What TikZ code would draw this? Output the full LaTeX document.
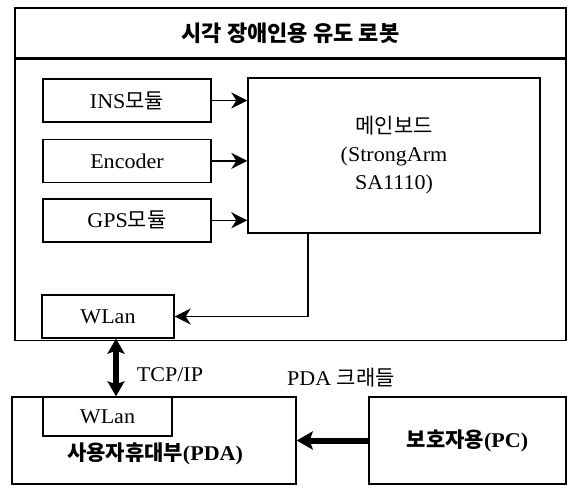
\documentclass[tikz,border=0pt]{standalone}
\usepackage{fontspec}
\setmainfont[FakeStretch=1.05]{Liberation Serif}
\newfontfamily\krfont{Noto Sans CJK KR}
\newcommand{\ko}[1]{{\krfont #1}}
\usetikzlibrary{arrows.meta,positioning}

\begin{document}
\begin{tikzpicture}[
  x=1pt, y=-1pt,
  font=\fontsize{21}{28}\selectfont,
  box/.style={draw, line width=1.4pt, inner sep=0pt, align=center},
  module/.style={box, minimum width=168pt, minimum height=43pt},
  arr/.style={-{Stealth[length=16pt,width=16pt,inset=5pt]}, line width=1.3pt},
  bigarr/.style={-{Stealth[length=16pt,width=18pt,inset=3pt]}, line width=6pt},
  dblarr/.style={{Stealth[length=15pt,width=17pt,inset=3pt]}-{Stealth[length=15pt,width=17pt,inset=3pt]}, line width=6pt}
]
\useasboundingbox (0,0) rectangle (569,487);

% robot frame
\node[box, minimum width=551pt, minimum height=50pt] (title) at (290.5,33) {\fontsize{22}{26}\selectfont\ko{\bfseries 시각 장애인용 유도 로봇}};
\node[box, minimum width=551pt, minimum height=281pt, below=0pt of title] (robot) {};

% sensors and board
\node[module] (ins) at (127,100.5) {INS\ko{모듈}};
\node[module, below=16pt of ins] (enc) {Encoder};
\node[module, below=15pt of enc] (gps) {GPS\ko{모듈}};
\node[box, minimum width=292pt, minimum height=155pt] (main) at (394,155.5) {\ko{메인보드}\\(StrongArm\\SA1110)};
\node[box, minimum width=132pt, minimum height=43pt] (wlan) at (108,316.5) {WLan};

% PDA and PC
\node[box, minimum width=284pt, minimum height=87pt] (pda) at (154,440.5) {};
\node[box, minimum width=129pt, minimum height=39pt] (pdawlan) at (107.5,416.5) {WLan};
\node (pdalabel) at (155,454) {\ko{\bfseries 사용자휴대부}\textbf{(PDA)}};
\node[box, minimum width=197pt, minimum height=87pt] (pc) at (467.5,440.5) {\ko{\bfseries 보호자용}\textbf{(PC)}};

\node (tcp) at (170,375) {TCP/IP};
\node (cradle) at (341,378) {PDA \ko{크래들}};

\draw[arr] (ins) -- (main.west |- ins);
\draw[arr] (enc) -- (main.west |- enc);
\draw[arr] (gps) -- (main.west |- gps);
\draw[arr] ([xshift=-86pt]main.south) |- (wlan.east);

\draw[dblarr] ([xshift=8pt]wlan.south) -- ([xshift=8pt]wlan.south |- pda.north);
\draw[bigarr] (pc.west) -- (pda.east);
\end{tikzpicture}
\end{document}
